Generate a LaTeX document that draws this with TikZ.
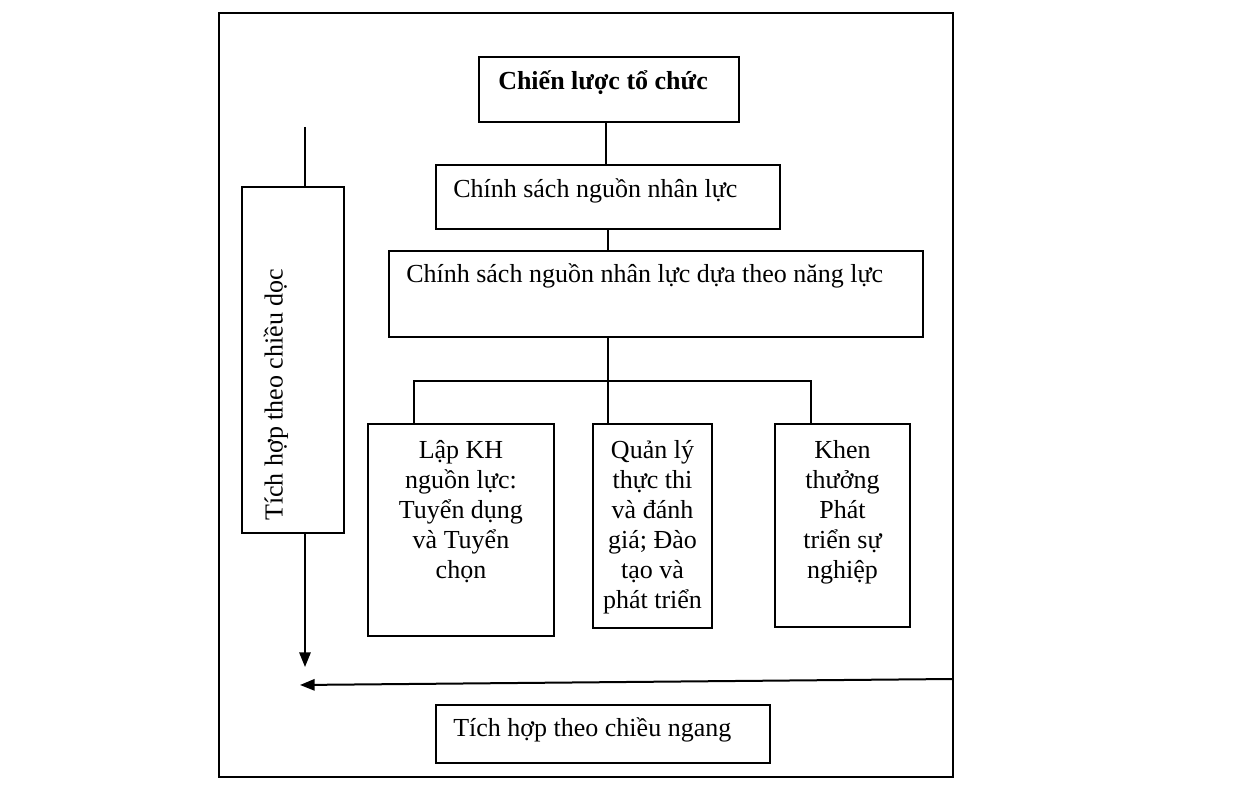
\documentclass[tikz,border=0pt]{standalone}
\usepackage{fontspec}
\setmainfont{Liberation Serif}
\usetikzlibrary{arrows.meta}

\tikzset{
  box/.style={draw,line width=1.5pt,anchor=north west,inner sep=0pt},
  txt/.style={inner sep=0pt,font=\fontsize{19.5}{22.5}\selectfont},
  link/.style={line width=1.5pt},
  flow/.style={line width=1.5pt,-{Triangle[length=11pt,width=8.5pt]}}
}

\begin{document}
\begin{tikzpicture}[x=0.75pt,y=0.75pt,yscale=-1,xscale=1]
\useasboundingbox (0,0) rectangle (1236,787);

%Shape: Rectangle (outer frame)
\draw [line width=1.5pt] (219,13) rectangle (953,777);

%Shape: Rectangle
\node [box,minimum width=195pt,minimum height=48.75pt] (strat) at (478,56) {};
%Shape: Rectangle
\node [box,minimum width=258pt,minimum height=48pt] (pol) at (435,164) {};
%Shape: Rectangle
\node [box,minimum width=400.5pt,minimum height=64.5pt] (comp) at (388,250) {};
%Shape: Rectangle
\node [box,minimum width=139.5pt,minimum height=159pt] (plan) at (367,423) {};
%Shape: Rectangle
\node [box,minimum width=89.25pt,minimum height=153pt] (mgmt) at (592,423) {};
%Shape: Rectangle
\node [box,minimum width=101.25pt,minimum height=152.25pt] (rew) at (774,423) {};
%Shape: Rectangle
\node [box,minimum width=76.5pt,minimum height=259.5pt] (vbox) at (241,186) {};
%Shape: Rectangle
\node [box,minimum width=250.5pt,minimum height=43.5pt] (hbox) at (435,704) {};

% Text Node
\node [txt,anchor=base west,font=\fontsize{19.5}{22.5}\selectfont\bfseries] (strat-t) at ([shift={(20,34)}]strat.north west) {Chiến lược tổ chức};
% Text Node
\node [txt,anchor=base west] (pol-t) at ([shift={(18,34)}]pol.north west) {Chính sách nguồn nhân lực};
% Text Node
\node [txt,anchor=base west] (comp-t) at ([shift={(18,33)}]comp.north west) {Chính sách nguồn nhân lực dựa theo năng lực};
% Text Node
\node [txt,anchor=north,align=center] (plan-t) at ([shift={(0,17)}]plan.north) {Lập KH\\nguồn lực:\\Tuyển dụng\\và Tuyển\\chọn};
% Text Node
\node [txt,anchor=north,align=center] (mgmt-t) at ([shift={(0,17)}]mgmt.north) {Quản lý\\thực thi\\và đánh\\giá; Đào\\tạo và\\phát triển};
% Text Node
\node [txt,anchor=north,align=center] (rew-t) at ([shift={(0,17)}]rew.north) {Khen\\thưởng\\Phát\\triển sự\\nghiệp};
% Text Node
\node [txt,anchor=west,rotate=90] (vbox-t) at (276,521) {Tích hợp theo chiều dọc};
% Text Node
\node [txt,anchor=base west] (hbox-t) at ([shift={(18,32)}]hbox.north west) {Tích hợp theo chiều ngang};

% connectors
\coordinate (busl) at (414,381);
\coordinate (busr) at (811,381);
\coordinate (vtop) at (305,127);
\coordinate (vend) at (305,667);
\coordinate (hstart) at (953,679);
\coordinate (hend) at (300,685);

\draw [link] ([xshift=-2.25pt]strat.south) -- ([xshift=-2.25pt]strat.south |- pol.north);
\draw [link] (pol.south) -- (pol.south |- comp.north);
\draw [link] (pol.south |- comp.south) -- (pol.south |- mgmt.north);
\draw [link] (busl |- plan.north) -- (busl) -- (busr) -- (busr |- rew.north);
\draw [link] (vtop) -- (vtop |- vbox.north);
\draw [flow] (vtop |- vbox.south) -- (vend);
\draw [flow] (hstart) -- (hend);

\end{tikzpicture}
\end{document}
